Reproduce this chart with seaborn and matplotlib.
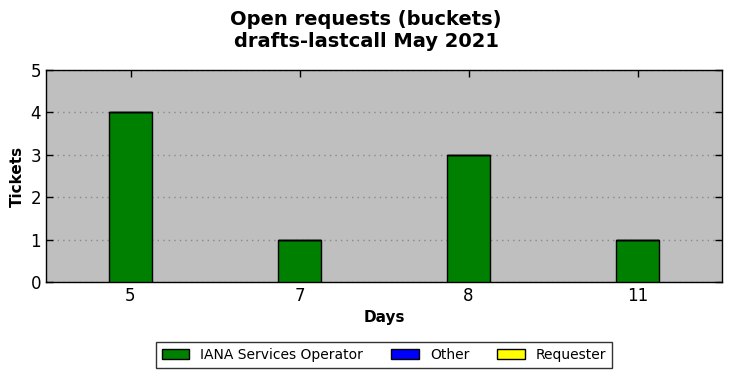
import matplotlib
matplotlib.use("Agg")
import matplotlib.pyplot as plt
import seaborn as sns
import pandas as pd
from matplotlib.patches import Patch

days = ["5", "7", "8", "11"]
iana = [4, 1, 3, 1]
other = [0, 0, 0, 0]
requester = [0, 0, 0, 0]
series_names = ["IANA Services Operator", "Other", "Requester"]
colors = ["#008000", "#0000ff", "#ffff00"]

sns.set_style("white")
plt.rcParams['font.family'] = ['DejaVu Sans']
plt.rcParams.update({"text.color": "black", "axes.labelcolor": "black",
                     "xtick.color": "black", "ytick.color": "black"})

fig = plt.figure(figsize=(7.32, 3.78), dpi=100)
ax = fig.add_axes([46/732, 1-282/378, 676/732, 212/378])
ax.set_facecolor("#bfbfbf")

df = pd.DataFrame({"Days": days, "iana": iana, "other": other, "req": requester})
bottom = [0]*len(days)
for col, c in zip(["iana", "other", "req"], colors):
    sns.barplot(data=df, x="Days", y=col, order=days, color=c, width=0.25,
                bottom=bottom, edgecolor="black", linewidth=1, ax=ax, saturation=1, zorder=3)
    bottom = [b + v for b, v in zip(bottom, df[col])]

ax.set_xlim(-0.5, 3.5)
ax.set_ylim(0, 5)
ax.set_yticks(range(0, 6))
ax.yaxis.grid(True, linestyle=(0, (1, 3)), color="#888888", linewidth=1, zorder=0)
ax.set_axisbelow(True)
ax.tick_params(direction="in", top=True, right=True, labelsize=12, length=5, width=1,
               color="black", labelcolor="black")
ax.tick_params(axis="y", left=True, right=True)
for s in ax.spines.values():
    s.set_visible(True)
    s.set_color("black")
    s.set_linewidth(1)
ax.set_xlabel("Days", fontsize=11, fontweight="bold", color="black")
ax.set_ylabel("Tickets", fontsize=11, fontweight="bold", color="black")
fig.suptitle("Open requests (buckets)\ndrafts-lastcall May 2021", fontsize=14,
             fontweight="bold", y=0.974, color="black")

handles = [Patch(facecolor=c, edgecolor="black", label=n) for c, n in zip(colors, series_names)]
leg = fig.legend(handles=handles, loc="center", bbox_to_anchor=(384/732, 1-355/378), ncol=3,
                 fontsize=10, frameon=True, fancybox=False, edgecolor="black",
                 handlelength=2.0, handleheight=0.7, columnspacing=2.0, borderpad=0.4)
leg.get_frame().set_linewidth(1)
for t in leg.get_texts():
    t.set_color("black")

fig.savefig("out.png", dpi=100)
